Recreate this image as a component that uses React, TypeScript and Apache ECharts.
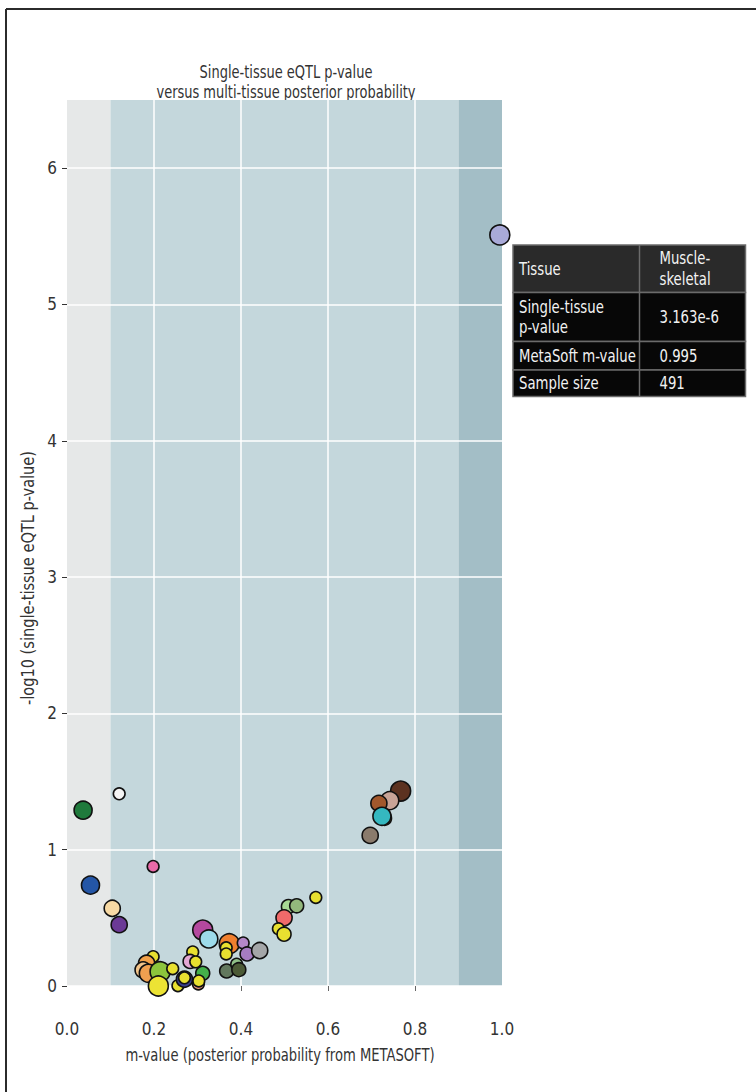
import React, { useEffect, useRef } from "react";
import * as echarts from "echarts";

const FONT = "'DejaVu Sans Condensed', 'Liberation Sans Narrow', 'Open Sans', sans-serif";

// m-value (x) per tissue
const mValues = [
  0.037, 0.12, 0.054, 0.198, 0.104, 0.12, 0.312, 0.326, 0.373, 0.366,
  0.366, 0.405, 0.414, 0.443, 0.367, 0.39, 0.395, 0.289, 0.283, 0.296,
  0.198, 0.183, 0.175, 0.187, 0.214, 0.243, 0.21, 0.255, 0.27, 0.27,
  0.312, 0.302, 0.303, 0.767, 0.742, 0.717, 0.73, 0.724, 0.697, 0.572,
  0.509, 0.528, 0.499, 0.486, 0.499, 0.995,
];
// -log10 single-tissue p-value (y)
const log10P = [
  1.29, 1.41, 0.74, 0.877, 0.57, 0.45, 0.41, 0.345, 0.31, 0.28,
  0.235, 0.316, 0.235, 0.26, 0.11, 0.16, 0.12, 0.25, 0.18, 0.177,
  0.215, 0.167, 0.118, 0.093, 0.105, 0.127, 0.0, 0.002, 0.05, 0.06,
  0.093, 0.015, 0.037, 1.43, 1.36, 1.34, 1.23, 1.245, 1.105, 0.65,
  0.583, 0.588, 0.5, 0.42, 0.38, 5.51,
];
// sample size per tissue (bubble size)
const sampleSizes = [
  400, 170, 400, 170, 320, 320, 491, 400, 491, 170,
  170, 170, 240, 320, 240, 170, 240, 170, 240, 170,
  170, 320, 320, 400, 491, 170, 491, 170, 320, 170,
  240, 170, 170, 491, 400, 320, 240, 400, 320, 170,
  240, 240, 320, 170, 240, 491,
];
const tissueColors = [
  "#1f7a3c", "#f4f4f4", "#2456a6", "#e96aa8", "#f7d9a4", "#6b3a96", "#b4489e", "#9ddbea", "#f07f2e", "#e8e030",
  "#e8e030", "#b487c8", "#a67cc2", "#a4a6a8", "#62785e", "#8fbf88", "#4b5a36", "#e8e030", "#e4a8d4", "#e8e030",
  "#e8e030", "#f3a24a", "#f2c48a", "#f0a050", "#8cc43c", "#e8e030", "#ece334", "#e8e030", "#3a3f8f", "#e8e030",
  "#44b04a", "#f09a86", "#e8e030", "#5c3220", "#c9a497", "#a2582c", "#e8e030", "#35b8c0", "#8a7b6c", "#e8e030",
  "#a8d894", "#93b87c", "#f06a6a", "#e8e030", "#e8e030", "#a9aad8",
];

// background zones along the m-value axis
const zoneEdges = [0, 0.1, 0.9, 1.0];
const zoneColors = ["#e6e8e8", "#c4d7dc", "#a3bec6"];

const yTickValues = [0, 1, 2, 3, 4, 5, 6];
const xTickValues = [0.2, 0.4, 0.6, 0.8];

const titleLines = ["Single-tissue eQTL p-value", "versus multi-tissue posterior probability"];
const xAxisName = "m-value (posterior probability from METASOFT)";
const yAxisName = "-log10 (single-tissue eQTL p-value)";

// tooltip table
const tableLabels = ["Tissue", "Single-tissue\np-value", "MetaSoft m-value", "Sample size"];
const tableValues = ["Muscle-\nskeletal", "3.163e-6", "0.995", "491"];

export default function App() {
  const ref = useRef<HTMLDivElement>(null);
  useEffect(() => {
    if (!ref.current) return;
    const chart = echarts.init(ref.current, null, { renderer: "svg" });

    const rowEdges = [245, 292.5, 341.5, 370, 396.5];
    const colEdges = [513, 639.5, 745.5];
    const rowBg = ["#2a2a2a", "#070707", "#070707", "#070707"];
    const tableEls: any[] = [];
    for (let r = 0; r < 4; r++) {
      tableEls.push({
        type: "rect",
        shape: { x: colEdges[0], y: rowEdges[r], width: colEdges[2] - colEdges[0], height: rowEdges[r + 1] - rowEdges[r] },
        style: { fill: rowBg[r], stroke: "#6b6b6b", lineWidth: 1.5 },
      });
      tableEls.push({
        type: "line",
        shape: { x1: colEdges[1], y1: rowEdges[r], x2: colEdges[1], y2: rowEdges[r + 1] },
        style: { stroke: "#6b6b6b", lineWidth: 1.5 },
      });
      const cy = (rowEdges[r] + rowEdges[r + 1]) / 2;
      tableEls.push({
        type: "text",
        x: colEdges[0] + 6,
        y: cy,
        scaleX: 0.82,
        style: { text: tableLabels[r], fill: "#f2f2f2", font: `18px ${FONT}`, lineHeight: 20, verticalAlign: "middle", align: "left" },
      });
      tableEls.push({
        type: "text",
        x: colEdges[1] + 20,
        y: cy,
        scaleX: 0.82,
        style: { text: tableValues[r], fill: "#f2f2f2", font: `18px ${FONT}`, lineHeight: 21, verticalAlign: "middle", align: "left" },
      });
    }

    const option: any = {
      animation: false,
      backgroundColor: "#ffffff",
      grid: { left: 67, top: 100, width: 435, height: 886, containLabel: false },
      xAxis: {
        type: "value",
        min: 0,
        max: 1,
        interval: 0.2,
        offset: 20,
        z: 3,
        axisLine: { show: false },
        axisTick: { show: true, length: 5, customValues: xTickValues, lineStyle: { color: "#666" } },
        axisLabel: {
          margin: 14,
          fontFamily: FONT,
          fontSize: 17,
          color: "#333",
          formatter: (v: number) => v.toFixed(1),
        },
        splitLine: { show: true, lineStyle: { color: "#ffffff", width: 1.5 } },
      },
      yAxis: {
        type: "value",
        min: 0,
        max: 6.5,
        interval: 1,
        z: 3,
        axisLine: { show: false },
        axisTick: { show: true, length: 5, customValues: yTickValues, lineStyle: { color: "#333" } },
        axisLabel: { margin: 10, fontFamily: FONT, fontSize: 17, color: "#333", customValues: yTickValues },
        splitLine: { show: true, lineStyle: { color: "#ffffff", width: 1.5 } },
      },
      graphic: [
        { type: "line", shape: { x1: 6, y1: 9, x2: 756, y2: 9 }, style: { stroke: "#2b2b2b", lineWidth: 2 } },
        { type: "line", shape: { x1: 6, y1: 9, x2: 6, y2: 1092 }, style: { stroke: "#2b2b2b", lineWidth: 2 } },
        {
          type: "text",
          x: 286,
          y: 72,
          scaleX: 0.85,
          style: { text: titleLines[0], font: `17px ${FONT}`, fill: "#333", align: "center", verticalAlign: "middle" },
        },
        {
          type: "text",
          x: 286,
          y: 92,
          scaleX: 0.85,
          style: { text: titleLines[1], font: `17px ${FONT}`, fill: "#333", align: "center", verticalAlign: "middle" },
        },
        {
          type: "text",
          x: 280,
          y: 1055,
          scaleX: 0.86,
          style: { text: xAxisName, font: `17px ${FONT}`, fill: "#333", align: "center", verticalAlign: "middle" },
        },
        {
          type: "text",
          x: 28,
          y: 578,
          rotation: Math.PI / 2,
          scaleX: 0.9,
          style: { text: yAxisName, font: `18px ${FONT}`, fill: "#333", align: "center", verticalAlign: "middle" },
        },
        { type: "group", z: 100, children: tableEls },
      ],
      series: [
        {
          type: "scatter",
          z: 1,
          data: [],
          silent: true,
          markArea: {
            silent: true,
            data: zoneColors.map((c, i) => [
              { xAxis: zoneEdges[i], itemStyle: { color: c } },
              { xAxis: zoneEdges[i + 1] },
            ]),
          },
        },
        {
          type: "scatter",
          z: 5,
          clip: false,
          data: mValues.map((m, i) => [m, log10P[i], sampleSizes[i]]),
          symbolSize: (v: number[]) => Math.sqrt(v[2]) * 0.9,
          itemStyle: {
            color: (p: any) => tissueColors[p.dataIndex],
            borderColor: "#111",
            borderWidth: 1.6,
            opacity: 1,
          },
        },
      ],
    };
    chart.setOption(option);
    return () => chart.dispose();
  }, []);
  return (
    <div
      ref={ref}
      style={{ position: "fixed", left: 0, top: 0, width: 756, height: 1092 }}
    />
  );
}
